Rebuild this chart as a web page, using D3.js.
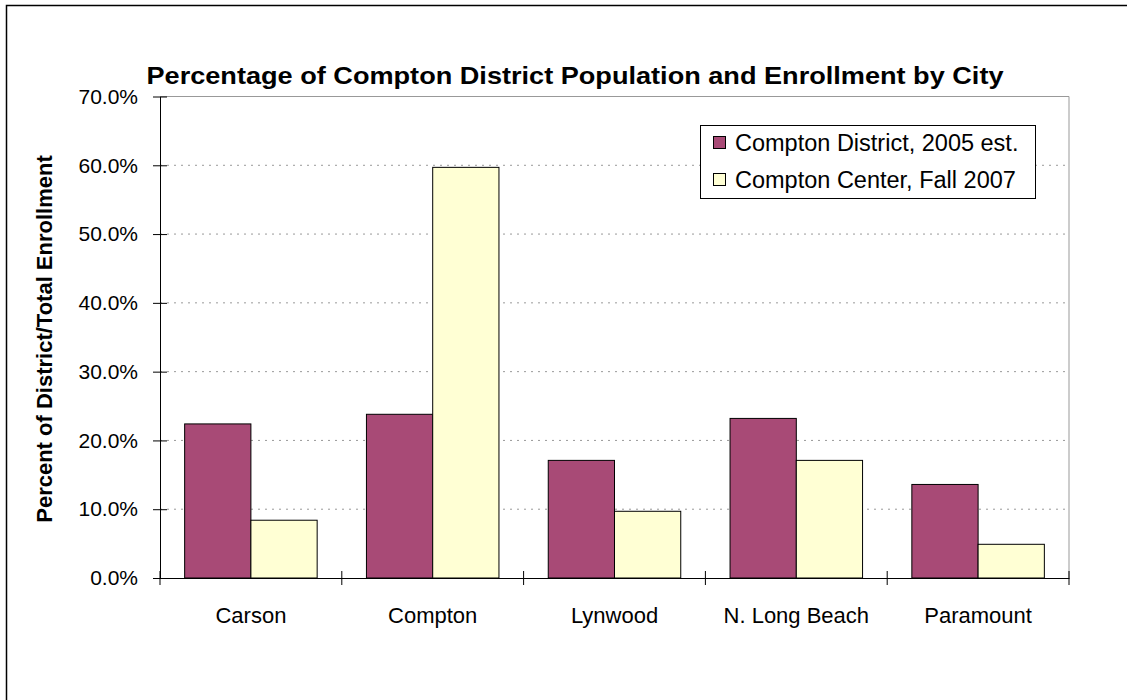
<!DOCTYPE html>
<html><head><meta charset="utf-8">
<script src="https://cdn.jsdelivr.net/npm/d3@7"></script>
<style>body{margin:0;background:#fff;} svg{display:block;font-family:"Liberation Sans",Arial,sans-serif;}</style>
</head><body>
<svg id="c" width="1127" height="700"></svg>
<script>
const categories = ["Carson","Compton","Lynwood","N. Long Beach","Paramount"];
const seriesNames = ["Compton District, 2005 est.","Compton Center, Fall 2007"];
const district2005 = [22.4, 23.8, 17.1, 23.2, 13.6];
const center2007 = [8.4, 59.7, 9.7, 17.1, 4.9];
const yTicks = [0,10,20,30,40,50,60,70];
const colors = ["#A84A76","#FFFFD4"];

const svg = d3.select("#c");
const m = {l:160, r:1069, t:96.5, b:578};
svg.append("rect").attr("x",6.5).attr("y",5.5).attr("width",1200).attr("height",800)
  .attr("fill","none").attr("stroke","#000").attr("stroke-width",1.5);

const x0 = d3.scaleBand().domain(categories).range([m.l,m.r]).paddingInner(0).paddingOuter(0);
const x1 = d3.scaleBand().domain([0,1]).range([0, x0.bandwidth()]).paddingInner(0).paddingOuter(0.372);
const y = d3.scaleLinear().domain([0,70]).range([m.b,m.t]);

svg.append("g").selectAll("line").data(yTicks.filter(d=>d>0 && d<70)).join("line")
  .attr("x1",m.l).attr("x2",m.r).attr("y1",d=>y(d)).attr("y2",d=>y(d))
  .attr("stroke","#999").attr("stroke-dasharray","2,5");
svg.append("path").attr("d",`M${m.l},${y(70)}H${m.r}V${m.b}`).attr("fill","none").attr("stroke","#999").attr("stroke-width",1);

const data = categories.map((c,i)=>({c, v:[district2005[i], center2007[i]]}));
const g = svg.append("g").selectAll("g").data(data).join("g").attr("transform",d=>`translate(${x0(d.c)},0)`);
g.selectAll("rect").data(d=>d.v.map((v,k)=>({v,k}))).join("rect")
  .attr("x",d=>x1(d.k)).attr("width",x1.bandwidth())
  .attr("y",d=>y(d.v)).attr("height",d=>y(0)-y(d.v))
  .attr("fill",d=>colors[d.k]).attr("stroke","#000").attr("stroke-width",1);

const ya = d3.axisLeft(y).tickValues(yTicks).tickFormat(d=>d.toFixed(1)+"%").tickSize(0).tickPadding(22);
const yg = svg.append("g").attr("transform",`translate(${m.l},0)`).call(ya);
yg.attr("font-family",null).attr("font-size",null);
yg.select(".domain").attr("stroke","#000");
yg.selectAll("text").style("font-size","21px").attr("fill","#000");
yg.selectAll(".tick").append("line").attr("x1",-7).attr("x2",7).attr("stroke","#000");

const xa = d3.axisBottom(x0).tickSize(0).tickPadding(29);
const xg = svg.append("g").attr("transform",`translate(0,${m.b})`).call(xa);
xg.attr("font-family",null).attr("font-size",null);
xg.select(".domain").attr("stroke","#000");
xg.selectAll("text").style("font-size","22px").attr("fill","#000");
const bounds = categories.map(c=>x0(c)).concat([m.r]);
xg.append("g").selectAll("line").data(bounds).join("line")
  .attr("x1",d=>d).attr("x2",d=>d).attr("y1",-7).attr("y2",7).attr("stroke","#000");

svg.append("text").attr("x",575).attr("y",84).attr("text-anchor","middle")
  .attr("font-size","24px").attr("font-weight","bold")
  .attr("textLength",857).attr("lengthAdjust","spacingAndGlyphs")
  .text("Percentage of Compton District Population and Enrollment by City");
svg.append("text").attr("transform","translate(52,339) rotate(-90)").attr("text-anchor","middle")
  .attr("font-size","22px").attr("font-weight","bold").text("Percent of District/Total Enrollment");

const lg = svg.append("g");
lg.append("rect").attr("x",700.5).attr("y",125.5).attr("width",335).attr("height",73).attr("fill","#fff").attr("stroke","#000");
const li = lg.selectAll("g").data(seriesNames).join("g").attr("transform",(d,i)=>`translate(713,${143+i*37})`);
li.append("rect").attr("x",0.5).attr("y",-6.5).attr("width",12).attr("height",12).attr("fill",(d,i)=>colors[i]).attr("stroke","#000");
li.append("text").attr("x",22).attr("y",8).attr("font-size","23.5px").text(d=>d);
</script>
</body></html>
